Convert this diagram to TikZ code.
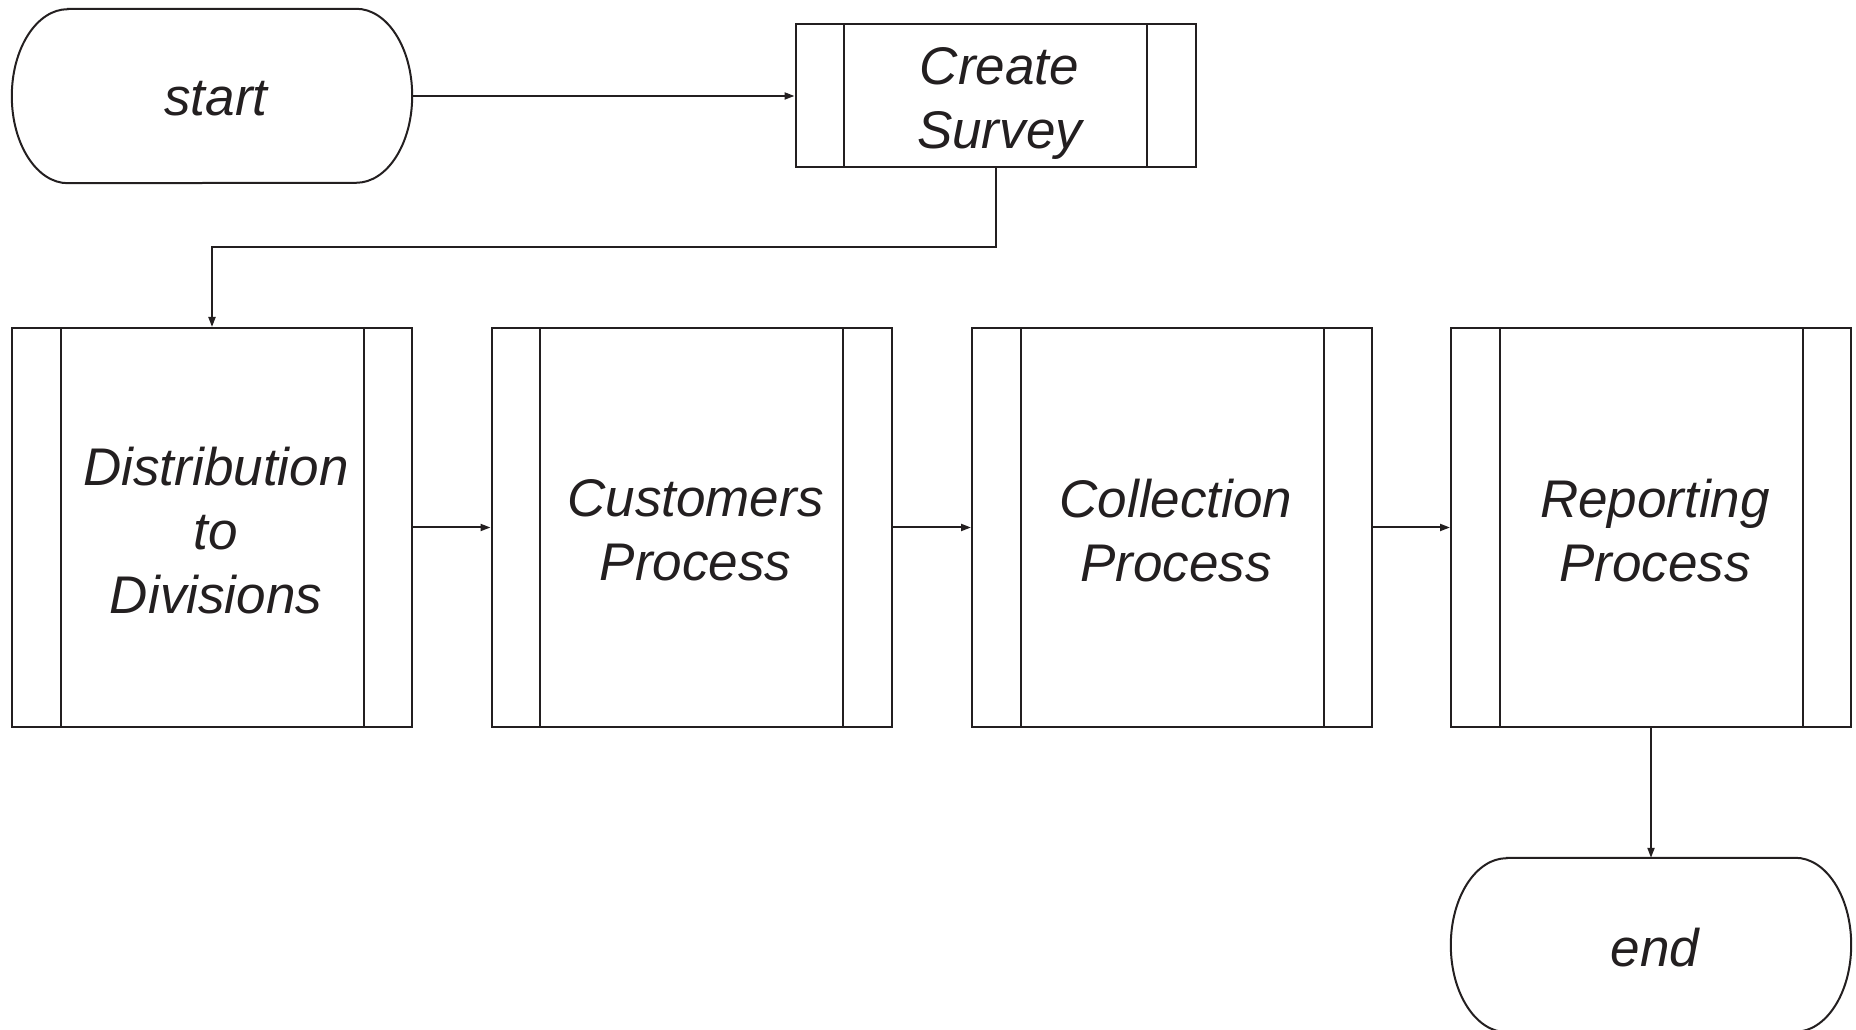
\documentclass[tikz,border=0pt]{standalone}
\usepackage{fontspec}
\setmainfont{Liberation Sans}
\usetikzlibrary{calc,arrows.meta}
\definecolor{ink}{HTML}{231F20}
\tikzset{
  line/.style={draw=ink, line width=2pt},
  arr/.style={line, -{Triangle[length=10pt,width=7pt]}},
  lbl/.style={font=\fontsize{53}{64}\selectfont\itshape, text=ink, align=center, inner sep=0pt},
  caption/.style={label={[lbl, shift={(4,-3)}]center:#1}},
  terminal/.style={inner sep=0pt, minimum width=400pt, minimum height=174pt},
  subproc/.style={line, rectangle, inner sep=0pt, minimum width=400pt,
    path picture={
      \draw[line] ([xshift=48.5pt]path picture bounding box.north west) -- ([xshift=48.5pt]path picture bounding box.south west);
      \draw[line] ([xshift=-48.5pt]path picture bounding box.north east) -- ([xshift=-48.5pt]path picture bounding box.south east);
    }},
  rowbox/.style={subproc, minimum height=399pt},
}
\begin{document}
\begin{tikzpicture}[x=1pt,y=1pt]
\useasboundingbox (0,0) rectangle (1856,1030);

% terminals
\node[terminal, caption=start] (start) at (212,934) {};
\node[terminal, caption=end] (end) at (1651,85) {};
\foreach \n in {start,end}{
  \draw[line] ($(\n.north west)+(56,0)$) -- ($(\n.north east)+(-56,0)$)
    arc[start angle=90,end angle=-90,x radius=56,y radius=87]
    -- ($(\n.south west)+(56,0)$)
    arc[start angle=270,end angle=90,x radius=56,y radius=87] -- cycle;
}

% predefined processes
\node[subproc, minimum height=143pt,
      label={[lbl, shift={(4,-8)}]center:Create\\Survey}] (survey) at (995.5,934) {};
\node[rowbox, caption={Distribution\\to\\Divisions}] (dist) at (212,502.5) {};
\node[rowbox, caption={Customers\\Process}] (cust) at (691.5,502.5) {};
\node[rowbox, caption={Collection\\Process}] (coll) at (1172,502.5) {};
\node[rowbox, caption={Reporting\\Process}] (rep) at (1651,502.5) {};

% connectors
\coordinate (bend) at (995.5,783);
\draw[arr] (start.east) -- (survey.west);
\draw[arr] (survey.south) -- (bend) -| (dist.north);
\draw[arr] (dist.east) -- (cust.west);
\draw[arr] (cust.east) -- (coll.west);
\draw[arr] (coll.east) -- (rep.west);
\draw[arr] (rep.south) -- (end.north);
\end{tikzpicture}
\end{document}
